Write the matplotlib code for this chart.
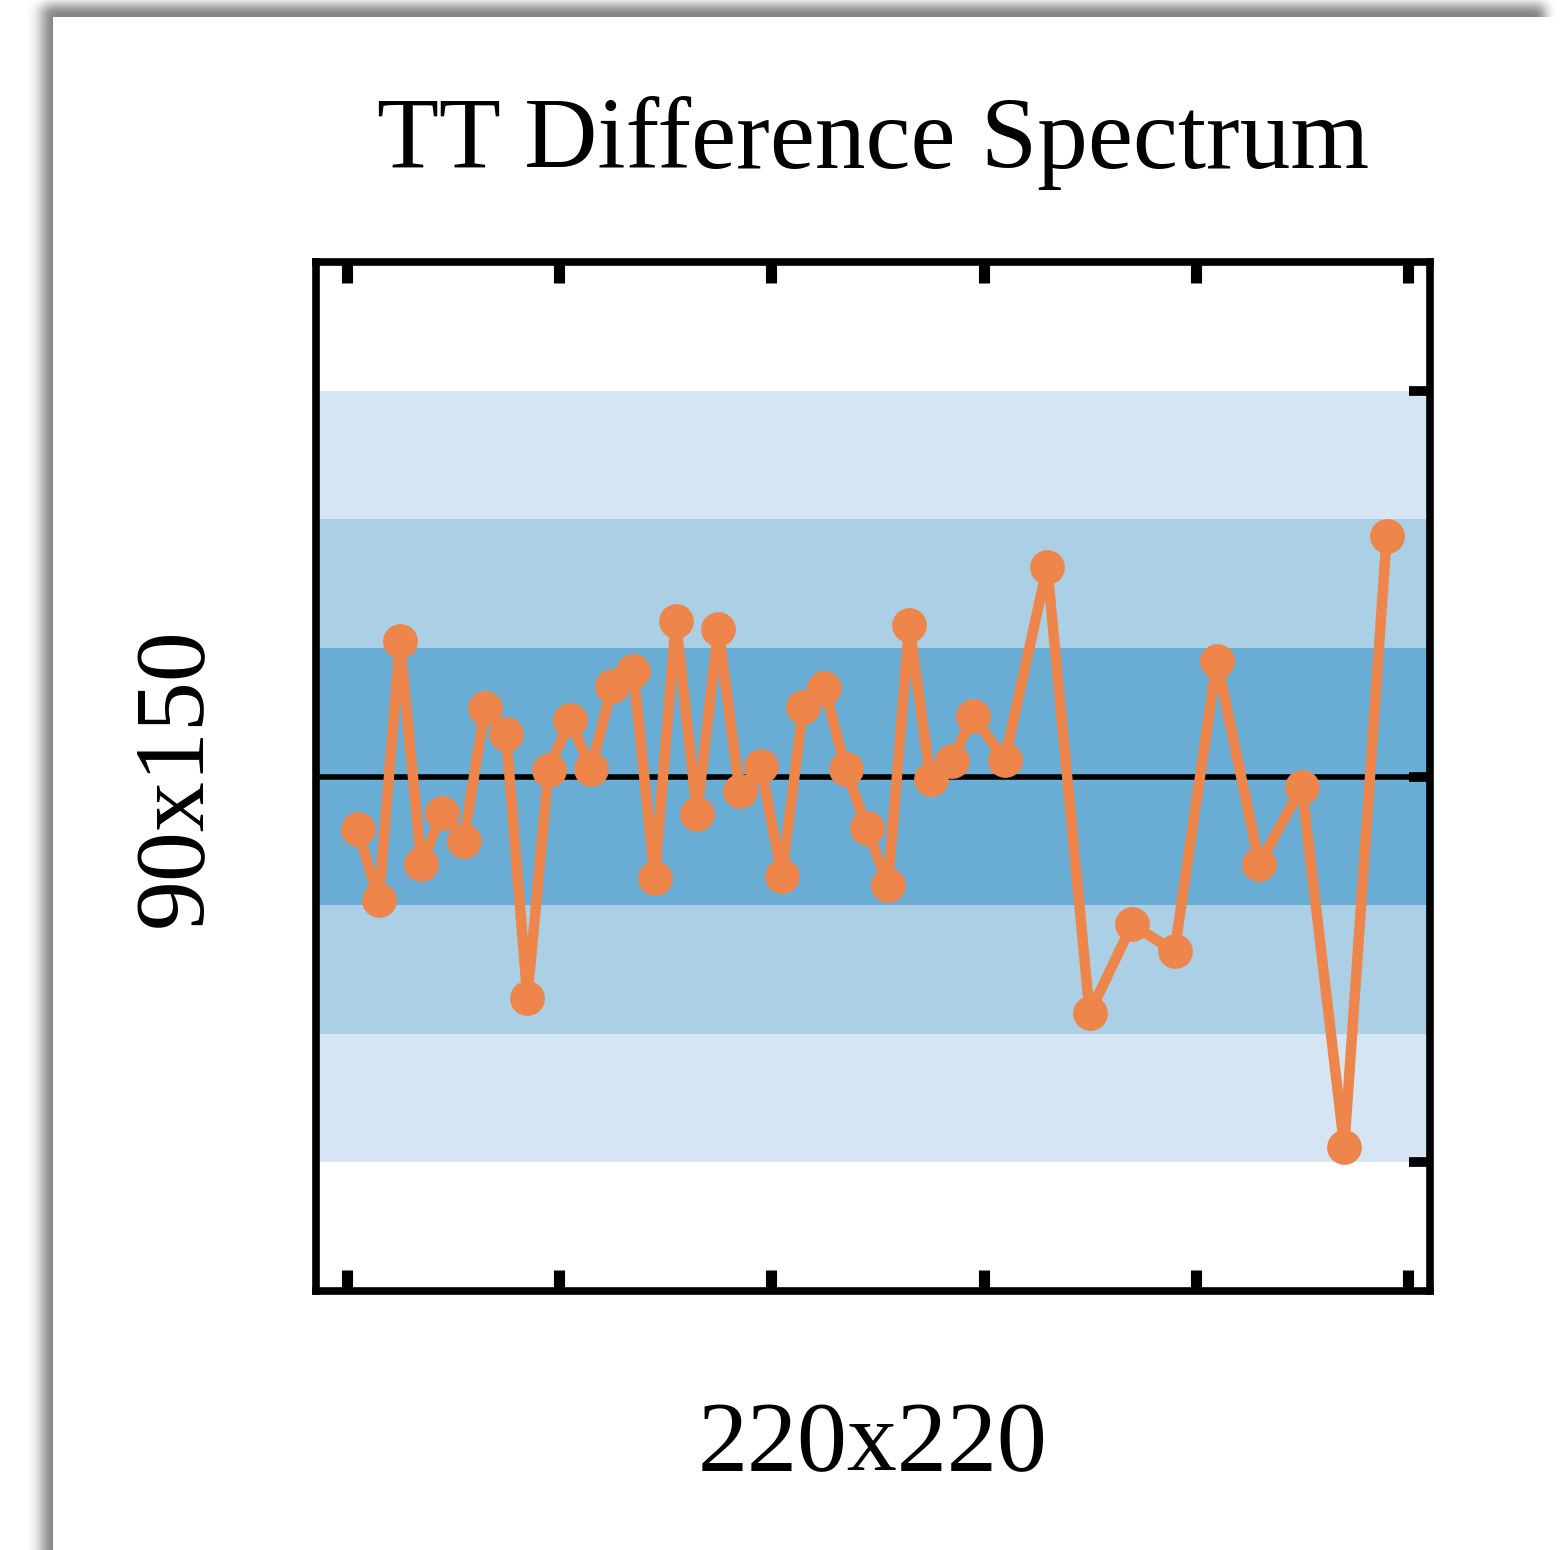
import math
import numpy as np
import matplotlib
matplotlib.use("Agg")
import matplotlib.pyplot as plt

# ---------------- data ----------------
ell = [25, 75, 125, 175, 225, 275, 325, 375, 425, 475,
       525, 575, 625, 675, 725, 775, 825, 875, 925, 975,
       1025, 1075, 1125, 1175, 1225, 1275, 1325, 1375, 1425, 1475,
       1550, 1650, 1750, 1850, 1950, 2050, 2150, 2250, 2350, 2450]
delta_sigma = [-0.41, -0.96, 1.05, -0.68, -0.28, -0.50, 0.53, 0.33, -1.72, 0.05,
               0.44, 0.06, 0.70, 0.82, -0.79, 1.21, -0.29, 1.15, -0.11, 0.08,
               -0.77, 0.54, 0.69, 0.06, -0.40, -0.84, 1.18, -0.02, 0.12, 0.47,
               0.13, 1.63, -1.84, -1.15, -1.36, 0.90, -0.68, -0.08, -2.88, 1.87]
x_ticks = [0, 500, 1000, 1500, 2000, 2500]
y_ticks = [-3, 0, 3]
band_levels = [3, 2, 1]
band_colors = ["#d5e5f4", "#abcfe5", "#6aadd5"]
title_text = "TT Difference Spectrum"
x_label = "220x220"
y_label = "90x150"

# ---------------- figure ----------------
W, H, DPI = 1564, 1550, 100
fig = plt.figure(figsize=(W / DPI, H / DPI), dpi=DPI, facecolor="white")

# paper drop-shadow background
bg = fig.add_axes([0, 0, 1, 1], zorder=-10)
bg.set_axis_off()
erf = np.vectorize(math.erf)
xs = np.arange(W) + 0.5
ys = np.arange(H) + 0.5
fx = 0.5 * (erf((xs - 42) / 10.0) - erf((xs - 1545) / 8.0))
fy = 0.5 * (1 + erf((ys - 5) / 8.0))
img = 1 - 0.5 * np.outer(fy, fx)
X, Y = np.meshgrid(xs, ys)
img[(X >= 53) & (Y >= 17)] = 1.0
bg.imshow(img, cmap="gray", vmin=0, vmax=1, extent=(0, W, H, 0),
          aspect="auto", interpolation="bilinear")
bg.set_xlim(0, W)
bg.set_ylim(H, 0)

ax = fig.add_axes([316 / W, 1 - 1291 / H, (1430 - 316) / W, (1291 - 262) / H])
ax.set_facecolor("white")

for lev, col in zip(band_levels, band_colors):
    ax.axhspan(-lev, lev, color=col, lw=0, zorder=0)
ax.axhline(0, color="black", lw=4, zorder=1)
ax.plot(ell, delta_sigma, color="#ee854a", lw=7.5, marker="o", ms=24,
        zorder=3, solid_joinstyle="round")

ax.set_xlim(-73, 2552)
ax.set_ylim(-4, 4)
ax.set_xticks(x_ticks)
ax.set_yticks(y_ticks)
ax.tick_params(axis="x", which="both", direction="in", top=True, bottom=True,
               labelbottom=False, labeltop=False, length=15, width=8, color="black")
ax.tick_params(axis="y", which="both", direction="in", left=False, right=True,
               labelleft=False, labelright=False, length=15, width=7, color="black")
for sp in ax.spines.values():
    sp.set_linewidth(5.5)
    sp.set_color("black")
    sp.set_zorder(5)

font = ["Liberation Serif", "DejaVu Serif"]
fig.text(873 / W, 1 - 168 / H, title_text, ha="center", va="baseline",
         fontsize=73, family=font, color="black")
fig.text(873 / W, 1 - 1470 / H, x_label, ha="center", va="baseline",
         fontsize=72, family=font, color="black")
fig.text(200 / W, 1 - 777 / H, y_label, ha="center", va="baseline",
         rotation=90, rotation_mode="anchor", fontsize=72, family=font,
         color="black")

fig.savefig("out.png", dpi=DPI, facecolor="white")
